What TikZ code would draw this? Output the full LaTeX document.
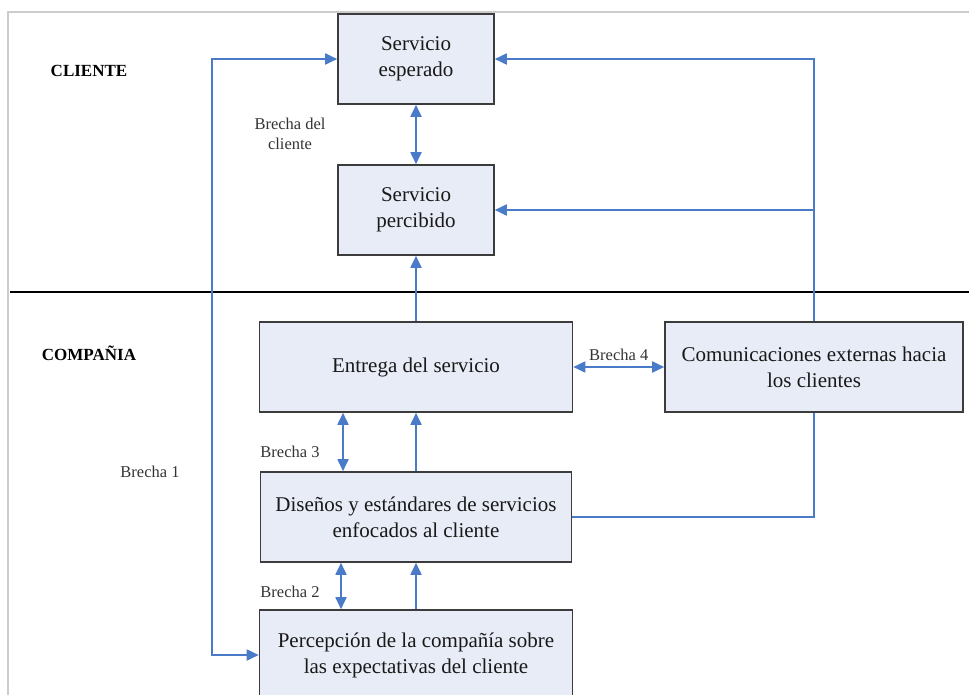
\documentclass[tikz,border=0pt]{standalone}
\usepackage{fontspec}
\setmainfont{Liberation Serif}
\usetikzlibrary{arrows.meta}
\definecolor{gapblue}{HTML}{4A7BC8}
\definecolor{boxfill}{HTML}{E8ECF6}
\definecolor{boxline}{HTML}{3C3C3C}
\begin{document}
\begin{tikzpicture}[x=1pt,y=-1pt, line join=miter,
  box/.style={draw=boxline, line width=1.6pt, fill=boxfill, align=center,
    font=\fontsize{21}{26}\selectfont, text=black!90, inner sep=0pt},
  lbl/.style={font=\fontsize{16.5}{20.5}\selectfont, text=black!80, align=center, inner sep=1pt},
  side/.style={font=\fontsize{17}{20}\selectfont\bfseries},
  link/.style={draw=gapblue, line width=1.8pt},
  arr/.style={link, -{Triangle[length=12pt,width=11pt]}},
  dbl/.style={link, {Triangle[length=12pt,width=11pt]}-{Triangle[length=12pt,width=11pt]}}]
\useasboundingbox (0,0) rectangle (969,695);
\draw[black!20, line width=1.2pt] (969,12) -- (8,12) -- (8,695);
\draw[black, line width=2.2pt] (10,292) -- (969,292);
\node[side] (cliente) at (89,71) {CLIENTE};
\node[side] (compania) at (89,353) {COMPAÑIA};
\node[box, minimum width=156, minimum height=90] (esp) at (416,59) {Servicio\\esperado};
\node[box, minimum width=156, minimum height=90] (perc) at (416,210) {Servicio\\percibido};
\node[box, minimum width=313, minimum height=90] (entrega) at (416,367) {Entrega del servicio};
\node[box, minimum width=298, minimum height=90] (comun) at (814,367) {Comunicaciones externas hacia\\los clientes};
\node[box, minimum width=311, minimum height=90] (disenos) at (416,517) {Diseños y estándares de servicios\\enfocados al cliente};
\node[box, minimum width=313, minimum height=90] (percep) at (416,655) {Percepción de la compañía sobre\\las expectativas del cliente};
\node[lbl] (bcli) at (290,134) {Brecha del\\cliente};
\node[lbl] (b1) at (150,472) {Brecha 1};
\node[lbl] (b3) at (290,452) {Brecha 3};
\node[lbl] (b2) at (290,592) {Brecha 2};
\draw[dbl] (esp) -- (perc);
\draw[arr] (entrega) -- (perc);
\draw[dbl] (esp.west) -- ++(-125,0) |- (percep.west);
\draw[arr] (comun.north) |- (esp.east);
\draw[arr] (comun.north |- perc.east) -- (perc.east);
\draw[dbl] (entrega.east) -- (comun.west) node[lbl, midway, above=4pt] (b4) {Brecha 4};
\draw[dbl] ([xshift=-73]entrega.south) -- ([xshift=-73]entrega.south |- disenos.north);
\draw[arr] (disenos) -- (entrega);
\draw[dbl] ([xshift=-75]disenos.south) -- ([xshift=-75]disenos.south |- percep.north);
\draw[arr] (percep.north -| disenos.south) -- (disenos.south);
\draw[link] (comun.south) |- (disenos.east);
\end{tikzpicture}
\end{document}
